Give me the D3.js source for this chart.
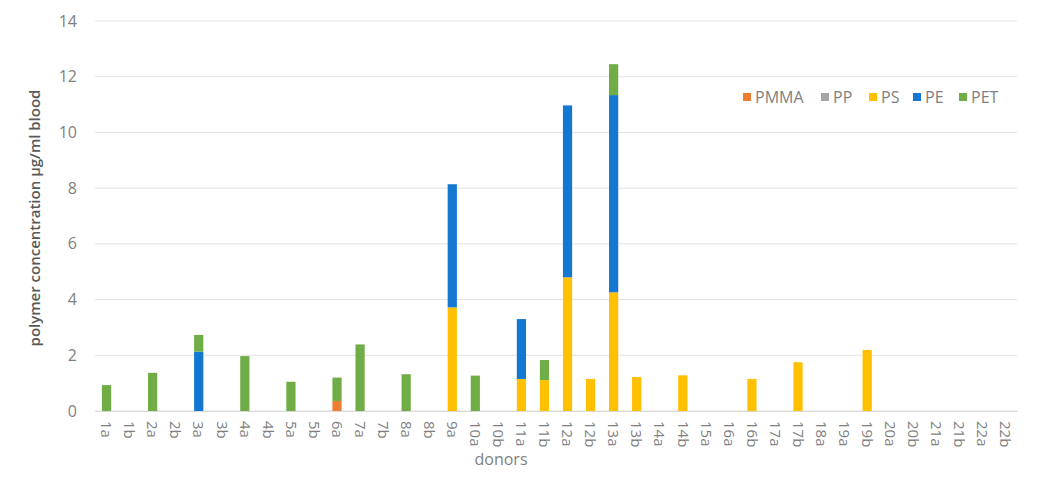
<!DOCTYPE html>
<html>
<head>
<meta charset="utf-8">
<script src="https://cdn.jsdelivr.net/npm/d3@7"></script>
<style>
  body { margin: 0; background: #fff; }
  text { font-family: "Open Sans", sans-serif; }
</style>
</head>
<body>
<svg id="chart" width="1042" height="498"></svg>
<script>
// donors / samples on the x axis
var donors = ["1a","1b","2a","2b","3a","3b","4a","4b","5a","5b",
    "6a","7a","7b","8a","8b","9a","10a","10b","11a","11b",
    "12a","12b","13a","13b","14a","14b","15a","16a","16b","17a",
    "17b","18a","19a","19b","20a","20b","21a","21b","22a","22b"];

// polymer concentrations in µg/ml blood, one value per donor
var pmma = [0,0,0,0,0,0,0,0,0,0, 0.36,0,0,0,0,0,0,0,0,0, 0,0,0,0,0,0,0,0,0,0, 0,0,0,0,0,0,0,0,0,0];
var pp   = [0,0,0,0,0,0,0,0,0,0, 0,0,0,0,0,0,0,0,0,0, 0,0,0,0,0,0,0,0,0,0, 0,0,0,0,0,0,0,0,0,0];
var ps   = [0,0,0,0,0,0,0,0,0,0, 0,0,0,0,0,3.72,0,0,1.15,1.11, 4.80,1.15,4.26,1.22,0,1.28,0,0,1.15,0, 1.75,0,0,2.19,0,0,0,0,0,0];
var pe   = [0,0,0,0,2.13,0,0,0,0,0, 0,0,0,0,0,4.42,0,0,2.15,0, 6.17,0,7.08,0,0,0,0,0,0,0, 0,0,0,0,0,0,0,0,0,0];
var pet  = [0.93,0,1.37,0,0.60,0,1.97,0,1.05,0, 0.84,2.39,0,1.32,0,0,1.27,0,0,0.72, 0,0,1.11,0,0,0,0,0,0,0, 0,0,0,0,0,0,0,0,0,0];

var seriesNames = ["PMMA", "PP", "PS", "PE", "PET"];
var seriesValues = [pmma, pp, ps, pe, pet];
var seriesColors = ["#ED7D31", "#A5A5A5", "#FFC000", "#1478D2", "#70AD47"];
var yTicks = [0, 2, 4, 6, 8, 10, 12, 14];

var svg = d3.select("#chart");
var margin = { left: 95, right: 25, top: 21, bottom: 87 };
var width = 1042, height = 498;

var rows = donors.map((d, i) => {
    var row = { donor: d };
    seriesNames.forEach((s, j) => row[s] = seriesValues[j][i]);
    return row;
});

var stacked = d3.stack().keys(seriesNames)(rows);

var x = d3.scaleBand()
    .domain(donors)
    .range([margin.left, width - margin.right])
    .paddingInner(0.6)
    .paddingOuter(0.3);

var y = d3.scaleLinear()
    .domain([0, 14])
    .range([height - margin.bottom, margin.top]);

var color = d3.scaleOrdinal().domain(seriesNames).range(seriesColors);

// Gridlines
svg.append("g")
    .selectAll("line")
    .data(yTicks)
    .join("line")
    .attr("x1", margin.left)
    .attr("x2", width - margin.right)
    .attr("y1", d => y(d))
    .attr("y2", d => y(d))
    .attr("stroke", "#e3e3e3")
    .attr("stroke-width", 1);

// Y axis labels
var yAxis = svg.append("g")
    .attr("transform", `translate(${margin.left}, 0)`)
    .call(d3.axisLeft(y).tickValues(yTicks).tickSize(0).tickPadding(18));
yAxis.select(".domain").remove();
yAxis.selectAll("text")
    .attr("fill", "#7f7f7f")
    .style("font-size", "16px");

// Bars
svg.append("g")
    .selectAll("g")
    .data(stacked)
    .join("g")
    .attr("fill", d => color(d.key))
    .selectAll("rect")
    .data(d => d)
    .join("rect")
    .attr("x", d => x(d.data.donor))
    .attr("width", x.bandwidth())
    .attr("y", d => y(d[1]))
    .attr("height", d => y(d[0]) - y(d[1]));

// X axis with rotated labels
var xAxis = svg.append("g")
    .attr("transform", `translate(0, ${y(0)})`)
    .call(d3.axisBottom(x).tickSize(0).tickPadding(0));
xAxis.select(".domain").attr("stroke", "#d9d9d9");
xAxis.selectAll("text")
    .attr("fill", "#7f7f7f")
    .style("font-size", "15px")
    .attr("text-anchor", "start")
    .attr("dy", "0.35em")
    .attr("transform", "translate(0, 10) rotate(90)");

// Axis titles
svg.append("text")
    .attr("transform", `translate(40, ${(margin.top + y(0)) / 2 + 2}) rotate(-90)`)
    .attr("text-anchor", "middle")
    .attr("fill", "#595959")
    .style("font-size", "15px")
    .style("font-weight", "600")
    .text("polymer concentration µg/ml blood");

svg.append("text")
    .attr("x", 501)
    .attr("y", 465)
    .attr("text-anchor", "middle")
    .attr("fill", "#7f7f7f")
    .style("font-size", "16px")
    .text("donors");

// Legend
var legendX = [743, 821, 869, 913, 959];
var legend = svg.append("g")
    .selectAll("g")
    .data(seriesNames)
    .join("g")
    .attr("transform", (d, i) => `translate(${legendX[i]}, 97)`);
legend.append("rect")
    .attr("x", 0)
    .attr("y", -4)
    .attr("width", 8)
    .attr("height", 8)
    .attr("fill", d => color(d));
legend.append("text")
    .attr("x", 12)
    .attr("dy", "0.35em")
    .attr("fill", "#7f7f7f")
    .style("font-size", "16px")
    .text(d => d);
</script>
</body>
</html>
